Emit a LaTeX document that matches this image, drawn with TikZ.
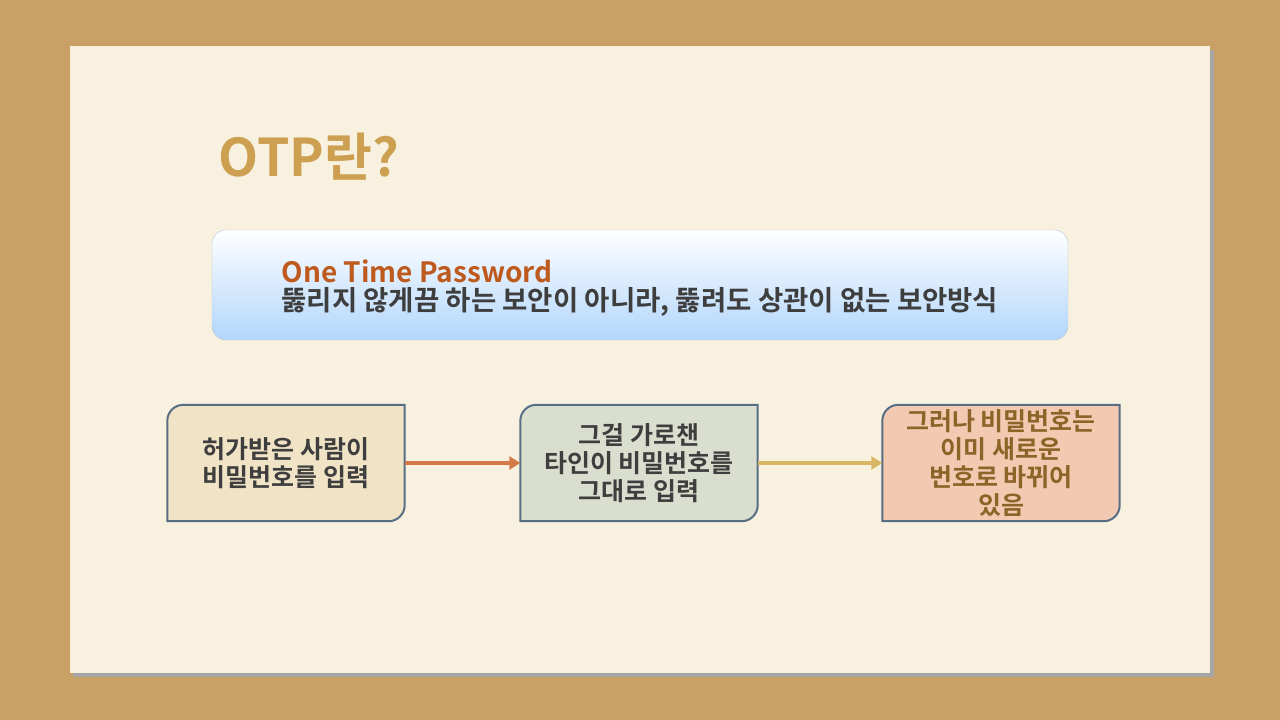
\documentclass[tikz,border=0pt]{standalone}
\usepackage{fontspec}
\setmainfont{Noto Sans CJK KR}[BoldFont={* Bold}]
\usetikzlibrary{positioning, arrows.meta}
\definecolor{wood}{RGB}{201,160,102}
\definecolor{slide}{RGB}{248,241,224}
\definecolor{titlec}{RGB}{204,160,80}
\definecolor{edgec}{RGB}{88,110,132}
\definecolor{txtc}{RGB}{62,62,62}
\definecolor{fillA}{RGB}{241,228,198}
\definecolor{fillB}{RGB}{218,222,206}
\definecolor{fillC}{RGB}{242,202,178}
\definecolor{arrA}{RGB}{212,122,72}
\definecolor{arrB}{RGB}{216,182,100}
\definecolor{otp}{RGB}{190,90,30}
\tikzset{
  stepbox/.style={minimum width=237pt, minimum height=116pt, align=center,
    font=\bfseries\fontsize{25}{28}\selectfont, text=txtc},
  flow/.style={line width=3.5pt, -{Triangle[length=11pt,width=13pt]}}
}
\newcommand{\stepframe}[2]{%
  \draw[edgec, line width=2pt, fill=#2, rounded corners=0pt]
    (#1.south west) -- ([yshift=-16pt]#1.north west) [rounded corners=16pt] -- (#1.north west)
    [rounded corners=0pt] -- (#1.north east) -- ([yshift=16pt]#1.south east)
    [rounded corners=16pt] -- (#1.south east) [rounded corners=0pt] -- cycle;}
\begin{document}
\begin{tikzpicture}[x=1pt, y=-1pt]
\fill[wood] (0,0) rectangle (1280,720);
\fill[black!35] (73,50) rectangle (1214,677);
\fill[slide] (70,46) rectangle (1210,673);
\node (title) at (309,157) [text=titlec, font=\bfseries\fontsize{52}{56}\selectfont] {OTP란?};
\shade[top color=white, bottom color={rgb,255:red,178;green,214;blue,252}, draw={rgb,255:red,180;green,200;blue,220}, rounded corners=14pt]
  (212,230) rectangle (1068,340);
\node (otp) at (278,271) [anchor=west, text=otp, font=\bfseries\fontsize{28}{32}\selectfont] {One Time Password};
\node (desc) at (278,302) [anchor=west, text=txtc, font=\bfseries\fontsize{27.5}{30}\selectfont] {뚫리지 않게끔 하는 보안이 아니라, 뚫려도 상관이 없는 보안방식};
\node (a) at (286,463) [stepbox] {};
\node (b) at (639,463) [stepbox] {};
\node (c) at (1001,463) [stepbox] {};
\stepframe{a}{fillA}
\stepframe{b}{fillB}
\stepframe{c}{fillC}
\node at (a) [stepbox] {허가받은 사람이\\비밀번호를 입력};
\node at (b) [stepbox] {그걸 가로챈\\타인이 비밀번호를\\그대로 입력};
\node at (c) [stepbox, text={rgb,255:red,140;green,100;blue,40}] {그러나 비밀번호는\\이미 새로운\\번호로 바뀌어\\있음};
\draw[flow, arrA] (a.east) -- (b.west);
\draw[flow, arrB] (b.east) -- (c.west);
\end{tikzpicture}
\end{document}
